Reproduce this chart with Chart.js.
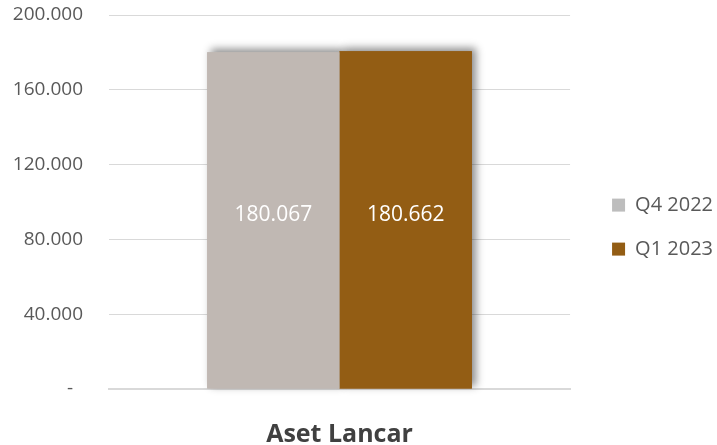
<!DOCTYPE html>
<html>
<head>
<meta charset="utf-8">
<script src="https://cdn.jsdelivr.net/npm/chart.js@4/dist/chart.umd.min.js"></script>
<style>
  html, body { margin: 0; padding: 0; background: #fff; }
  #wrap { width: 717px; height: 445px; position: relative; }
</style>
</head>
<body>
<div id="wrap"><canvas id="chart"></canvas></div>
<script>
const categories = ['Aset Lancar'];
const seriesNames = ['Q4 2022', 'Q1 2023'];
const q4_2022 = [180067];
const q1_2023 = [180662];
const barColors = ['#c0b8b3', '#935d14'];
const legendColors = ['#bdbdbd', '#935d14'];
const yTicks = [0, 40000, 80000, 120000, 160000, 200000];

const FONT = "'Open Sans', sans-serif";

function fmt(v) {
    if (v === 0) return '-  ';
    return v.toLocaleString('de-DE');
}

// soft shadow: draw every bar once with a shadow, then the normal pass paints over it
const shadowPlugin = {
    id: 'barShadow',
    beforeDatasetsDraw(chart) {
        const ctx = chart.ctx;
        ctx.save();
        ctx.shadowColor = 'rgba(0,0,0,0.45)';
        ctx.shadowBlur = 8;
        ctx.shadowOffsetX = 4;
        ctx.shadowOffsetY = -3;
        chart.data.datasets.forEach((ds, i) => {
            chart.getDatasetMeta(i).data.forEach(bar => bar.draw(ctx));
        });
        ctx.restore();
    }
};

// value labels in the middle of each bar
const valueLabels = {
    id: 'valueLabels',
    afterDatasetsDraw(chart) {
        const ctx = chart.ctx;
        ctx.save();
        ctx.fillStyle = '#ffffff';
        ctx.font = '21px ' + FONT;
        ctx.textAlign = 'center';
        ctx.textBaseline = 'middle';
        chart.data.datasets.forEach((ds, i) => {
            chart.getDatasetMeta(i).data.forEach((bar, j) => {
                const y = (bar.y + bar.base) / 2 - 5;
                ctx.fillText(fmt(ds.data[j]), bar.x, y);
            });
        });
        ctx.restore();
    }
};

new Chart(document.getElementById('chart'), {
    type: 'bar',
    data: {
        labels: categories,
        datasets: [
            { label: seriesNames[0], data: q4_2022, backgroundColor: barColors[0] },
            { label: seriesNames[1], data: q1_2023, backgroundColor: barColors[1] }
        ]
    },
    options: {
        responsive: true,
        maintainAspectRatio: false,
        animation: false,
        layout: { padding: { top: 0, right: -6, left: 13, bottom: 0 } },
        datasets: {
            bar: { categoryPercentage: 0.574, barPercentage: 1.0 }
        },
        plugins: {
            legend: {
                position: 'right',
                maxWidth: 300,
                // empty title, only nudges the items down a little
                title: { display: true, text: '', padding: 4, font: { size: 1 } },
                labels: {
                    font: { family: FONT, size: 20 },
                    color: '#595959',
                    boxWidth: 13,
                    boxHeight: 13,
                    padding: 24,
                    generateLabels(chart) {
                        return chart.data.datasets.map((ds, i) => ({
                            text: ds.label,
                            fillStyle: legendColors[i],
                            strokeStyle: legendColors[i],
                            lineWidth: 0,
                            fontColor: '#595959',
                            datasetIndex: i
                        }));
                    }
                }
            },
            tooltip: { enabled: false }
        },
        scales: {
            x: {
                grid: { display: false, drawTicks: false },
                border: { color: '#d9d9d9', width: 2 },
                ticks: {
                    font: { family: FONT, size: 25, weight: 'bold' },
                    color: '#404040',
                    padding: 31
                },
                afterFit(scale) { scale.height = 56; }
            },
            y: {
                min: 0,
                max: 200000,
                afterBuildTicks(axis) {
                    axis.ticks = yTicks.map(v => ({ value: v }));
                },
                grid: { color: '#d9d9d9', lineWidth: 1, drawTicks: false },
                border: { display: false },
                ticks: {
                    font: { family: FONT, size: 19 },
                    color: '#595959',
                    padding: 26,
                    callback: v => fmt(v)
                },
                afterFit(scale) {
                    scale.width = 96;
                    scale.paddingTop = 15;
                    scale.paddingBottom = 0;
                }
            },
            // empty axis that only keeps a gap between the plot and the legend
            gap: {
                position: 'right',
                display: true,
                grid: { display: false, drawTicks: false },
                border: { display: false },
                ticks: { display: false },
                afterFit(scale) { scale.width = 18; }
            }
        }
    },
    plugins: [shadowPlugin, valueLabels]
});
</script>
</body>
</html>
